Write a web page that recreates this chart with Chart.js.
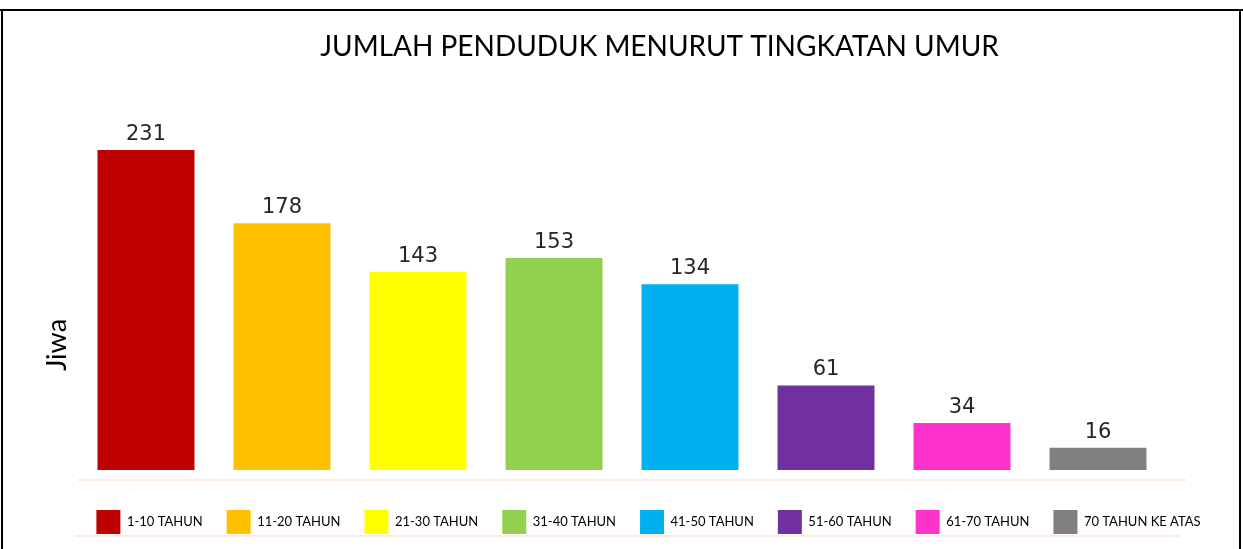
<!DOCTYPE html>
<html lang="id">
<head>
<meta charset="UTF-8">
<title>Jumlah Penduduk Menurut Tingkatan Umur</title>
<script src="https://cdn.jsdelivr.net/npm/chart.js"></script>
<style>
  html, body { margin: 0; padding: 0; background: #fff; }
  #wrap { width: 1243px; height: 549px; position: relative; }
</style>
</head>
<body>
<div id="wrap"><canvas id="umurChart"></canvas></div>
<script>
// data per kelompok umur
const kelompokUmur = ['1-10 TAHUN', '11-20 TAHUN', '21-30 TAHUN', '31-40 TAHUN',
                      '41-50 TAHUN', '51-60 TAHUN', '61-70 TAHUN', '70 TAHUN KE ATAS'];
const jumlahJiwa = [231, 178, 143, 153, 134, 61, 34, 16];
const warnaBatang = ['#C00000', '#FFC000', '#FFFF00', '#92D050',
                     '#00B0F0', '#7030A0', '#FF33CC', '#808080'];
const judul = 'JUMLAH PENDUDUK MENURUT TINGKATAN UMUR';
const labelSumbuY = 'Jiwa';

const garisTipis = '#FBE3D3';

// sumbu kosong, hanya untuk memberi ruang kiri/kanan area grafik
const sumbuKosong = (posisi, lebar) => ({
    position: posisi,
    grid: { display: false },
    border: { display: false },
    ticks: { display: false },
    afterFit: s => { s.width = lebar; }
});

// bingkai, garis dasar, tulisan "Jiwa" dan angka di atas batang
const hiasan = {
    id: 'hiasan',
    afterLayout(chart) {
        // judul dan legenda sedikit ke kanan
        chart.titleBlock.left += 38; chart.titleBlock.right += 38;
        chart.legend.left += 27; chart.legend.right += 27;
    },
    beforeDraw(chart) {
        const { ctx, chartArea } = chart;
        ctx.save();
        ctx.fillStyle = '#fff';
        ctx.fillRect(0, 0, chart.width, chart.height);
        ctx.strokeStyle = '#000';
        ctx.lineWidth = 2;
        ctx.beginPath();
        ctx.moveTo(0, 10); ctx.lineTo(chart.width, 10);
        ctx.moveTo(2, 10); ctx.lineTo(2, chart.height);
        ctx.moveTo(1240, 10); ctx.lineTo(1240, chart.height);
        ctx.stroke();

        ctx.strokeStyle = garisTipis;
        ctx.lineWidth = 1.5;
        ctx.beginPath();
        ctx.moveTo(chartArea.left, chartArea.bottom + 10);
        ctx.lineTo(chartArea.right + 20, chartArea.bottom + 10);
        ctx.moveTo(chartArea.left - 4, chart.legend.bottom - 8);
        ctx.lineTo(chartArea.right + 14, chart.legend.bottom - 8);
        ctx.stroke();

        ctx.fillStyle = '#000';
        ctx.font = '27px Lato';
        ctx.textAlign = 'center';
        ctx.textBaseline = 'middle';
        ctx.translate(57, 345);
        ctx.rotate(-Math.PI / 2);
        ctx.fillText(labelSumbuY, 0, 0);
        ctx.restore();
    },
    afterDatasetsDraw(chart) {
        const { ctx } = chart;
        const meta = chart.getDatasetMeta(0);
        ctx.save();
        ctx.fillStyle = '#262626';
        ctx.font = '21px "DejaVu Sans"';
        ctx.textAlign = 'center';
        ctx.textBaseline = 'bottom';
        meta.data.forEach((bar, i) => {
            ctx.fillText(jumlahJiwa[i], bar.x, bar.y - 5);
        });
        ctx.restore();
    }
};

new Chart(document.getElementById('umurChart'), {
    type: 'bar',
    data: {
        labels: kelompokUmur,
        datasets: [{
            label: 'Jiwa',
            data: jumlahJiwa,
            backgroundColor: warnaBatang,
            borderWidth: 0,
            categoryPercentage: 1,
            barPercentage: 0.713
        }]
    },
    options: {
        responsive: true,
        maintainAspectRatio: false,
        animation: false,
        layout: { padding: { top: 10, left: 0, right: 0, bottom: 5 } },
        scales: {
            x: {
                grid: { display: false },
                border: { display: false },
                ticks: { display: false },
                afterFit: s => { s.height = 16; }
            },
            y: {
                ...sumbuKosong('left', 78),
                min: 0,
                max: 250
            },
            kanan: sumbuKosong('right', 77)
        },
        plugins: {
            title: {
                display: true,
                text: judul,
                color: '#000',
                font: { family: 'Lato', size: 28, weight: 'normal' },
                padding: { top: 20, bottom: 60 }
            },
            legend: {
                position: 'bottom',
                labels: {
                    boxWidth: 24,
                    boxHeight: 24,
                    padding: 24,
                    color: '#404040',
                    font: { family: 'Lato', size: 13 },
                    generateLabels: chart => kelompokUmur.map((nama, i) => ({
                        text: nama,
                        fillStyle: warnaBatang[i],
                        strokeStyle: warnaBatang[i],
                        lineWidth: 0,
                        hidden: false,
                        index: i
                    }))
                }
            },
            tooltip: { enabled: false }
        }
    },
    plugins: [hiasan]
});
</script>
</body>
</html>
